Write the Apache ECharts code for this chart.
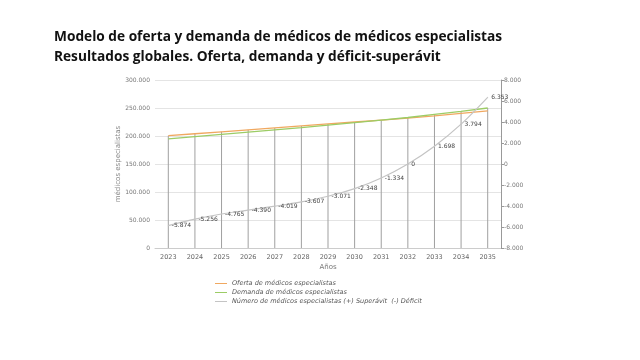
<!DOCTYPE html>
<html><head><meta charset="utf-8">
<script src="https://cdn.jsdelivr.net/npm/echarts@6/dist/echarts.min.js"></script>
<style>html,body{margin:0;padding:0;background:#fff}#c{width:640px;height:360px}</style>
</head><body><div id="c"></div>
<script>
const years = ['2023','2024','2025','2026','2027','2028','2029','2030','2031','2032','2033','2034','2035'];
const oferta = [200500, 204000, 207500, 211000, 214500, 218000, 221500, 225000, 228500, 232000, 236000, 240500, 245000];
const demanda = [195000, 199000, 203000, 207000, 211000, 215000, 219500, 224000, 228500, 233000, 238500, 244000, 250000];
const balance = [-5874, -5256, -4765, -4390, -4019, -3607, -3071, -2348, -1334, 0, 1698, 3794, 6353];
const leftTicks = [0, 50000, 100000, 150000, 200000, 250000, 300000];
const rightTicks = [-8000, -6000, -4000, -2000, 0, 2000, 4000, 6000, 8000];

const fmt = v => {
  const s = Math.abs(v).toString().replace(/\B(?=(\d{3})+(?!\d))/g, '.');
  return (v < 0 ? '-' : '') + s;
};
const dropLines = oferta.map((v, i) => Math.max(v, demanda[i]));

const chart = echarts.init(document.getElementById('c'), null, {renderer: 'canvas'});
chart.setOption({
  backgroundColor: '#fff',
  animation: false,
  title: {
    text: 'Modelo de oferta y demanda de médicos de médicos especialistas\nResultados globales. Oferta, demanda y déficit-superávit',
    left: 49, top: 22,
    textStyle: {fontFamily: 'Open Sans', fontSize: 13.7, fontWeight: 'bold', color: '#111', lineHeight: 20}
  },
  grid: {left: 155, right: 139, top: 80, bottom: 112},
  legend: {
    orient: 'vertical', left: 210, top: 275, itemGap: 2, itemWidth: 12, itemHeight: 7,
    textStyle: {fontFamily: 'DejaVu Sans', fontSize: 6.5, color: '#555', fontStyle: 'italic'},
    icon: 'path://M0,4 L12,4 L12,5 L0,5 Z',
    data: ['Oferta de médicos especialistas', 'Demanda de médicos especialistas', 'Número de médicos especialistas (+) Superávit  (-) Déficit']
  },
  xAxis: {
    type: 'category', data: years, boundaryGap: true,
    name: 'Años', nameLocation: 'middle', nameGap: 16,
    nameTextStyle: {fontFamily: 'DejaVu Sans', fontSize: 7, color: '#777'},
    axisLine: {lineStyle: {color: '#ccc'}},
    axisTick: {show: false},
    axisLabel: {fontFamily: 'DejaVu Sans', fontSize: 6.5, color: '#666', margin: 6}
  },
  yAxis: [{
    type: 'value', min: 0, max: 300000, interval: 50000, position: 'left',
    name: 'médicos especialistas', nameLocation: 'middle', nameGap: 33, nameRotate: 90,
    nameMoveOverlap: false,
    nameTextStyle: {fontFamily: 'DejaVu Sans', fontSize: 7, color: '#888'},
    axisLine: {show: false},
    axisTick: {show: false},
    splitLine: {lineStyle: {color: '#e4e4e4'}},
    axisLabel: {fontFamily: 'DejaVu Sans', fontSize: 6, color: '#777', margin: 5,
      formatter: v => leftTicks.includes(v) ? fmt(v) : ''}
  }, {
    type: 'value', min: -8000, max: 8000, interval: 2000, position: 'right',
    axisLine: {show: true, lineStyle: {color: '#999'}},
    axisTick: {show: true, length: 3, lineStyle: {color: '#999'}},
    splitLine: {show: false},
    axisLabel: {fontFamily: 'DejaVu Sans', fontSize: 6, color: '#777', margin: 3,
      formatter: v => rightTicks.includes(v) ? fmt(v) : ''}
  }],
  series: [{
    name: 'drop', type: 'bar', data: dropLines, barWidth: 1, silent: true, z: 1,
    itemStyle: {color: '#a0a0a0'}, legendHoverLink: false
  }, {
    name: 'Oferta de médicos especialistas', type: 'line', data: oferta, yAxisIndex: 0,
    symbol: 'none', z: 3, lineStyle: {color: '#f0a860', width: 1.3}, itemStyle: {color: '#f0a860'}
  }, {
    name: 'Demanda de médicos especialistas', type: 'line', data: demanda, yAxisIndex: 0,
    symbol: 'none', z: 3, lineStyle: {color: '#9ccc65', width: 1.3}, itemStyle: {color: '#9ccc65'}
  }, {
    name: 'Número de médicos especialistas (+) Superávit  (-) Déficit', type: 'line', data: balance, yAxisIndex: 1,
    symbol: 'circle', symbolSize: 1, showSymbol: true, smooth: 0.3, z: 4,
    lineStyle: {color: '#c4c4c4', width: 1.2}, itemStyle: {color: '#c4c4c4'},
    labelLayout: {hideOverlap: false},
    label: {show: true, position: 'right', distance: 3, formatter: p => fmt(p.value),
      fontFamily: 'DejaVu Sans', fontSize: 6, color: '#444'}
  }]
});
</script></body></html>
